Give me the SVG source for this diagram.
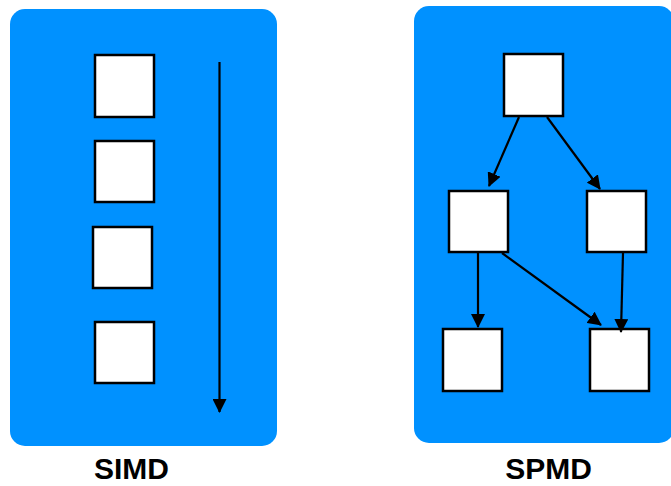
<svg xmlns="http://www.w3.org/2000/svg" width="671" height="486" viewBox="0 0 671 486">
  <defs>
    <marker id="arrow" markerWidth="14" markerHeight="14" refX="13" refY="7" orient="auto" markerUnits="userSpaceOnUse">
      <path d="M0,0 L14,7 L0,14 Z" fill="#000"/>
    </marker>
    <style>
      .panel { fill: #0091ff; }
      .box { fill: #fff; stroke: #000; stroke-width: 2.5; }
      .edge { stroke: #000; stroke-width: 2.2; fill: none; marker-end: url(#arrow); }
      .label { font-family: "Liberation Sans", Arial, sans-serif; font-weight: bold; font-size: 30px; fill: #000; text-anchor: middle; }
    </style>
  </defs>

  <!-- SIMD panel -->
  <g id="simd-panel">
    <rect class="panel" x="10" y="9" width="267" height="437" rx="15"/>
  </g>
  <g id="simd-box-1"><rect class="box" x="95" y="55" width="59" height="62"/></g>
  <g id="simd-box-2"><rect class="box" x="95" y="141" width="59" height="61"/></g>
  <g id="simd-box-3"><rect class="box" x="93" y="227" width="59" height="61"/></g>
  <g id="simd-box-4"><rect class="box" x="95" y="322" width="59" height="61"/></g>

  <!-- SPMD panel -->
  <g id="spmd-panel">
    <rect class="panel" x="414" y="6" width="260" height="437" rx="15"/>
  </g>
  <g id="spmd-top"><rect class="box" x="504" y="54" width="59" height="62"/></g>
  <g id="spmd-mid-left"><rect class="box" x="449" y="191" width="59" height="61"/></g>
  <g id="spmd-mid-right"><rect class="box" x="587" y="191" width="59" height="61"/></g>
  <g id="spmd-bottom-left"><rect class="box" x="443" y="329" width="59" height="62"/></g>
  <g id="spmd-bottom-right"><rect class="box" x="590" y="329" width="59" height="62"/></g>

  <!-- connectors -->
  <g id="connectors">
    <line class="edge" x1="219.5" y1="62" x2="219.5" y2="412"/>
    <line class="edge" x1="519" y1="117" x2="489" y2="186"/>
    <line class="edge" x1="547" y1="117" x2="600" y2="189"/>
    <line class="edge" x1="478" y1="253" x2="478" y2="327"/>
    <line class="edge" x1="502" y1="253" x2="601" y2="325"/>
    <line class="edge" x1="623" y1="253" x2="621" y2="332"/>
  </g>

  <!-- captions -->
  <g id="captions">
    <text class="label" x="131.5" y="479">SIMD</text>
    <text class="label" x="548.5" y="479">SPMD</text>
  </g>
</svg>
